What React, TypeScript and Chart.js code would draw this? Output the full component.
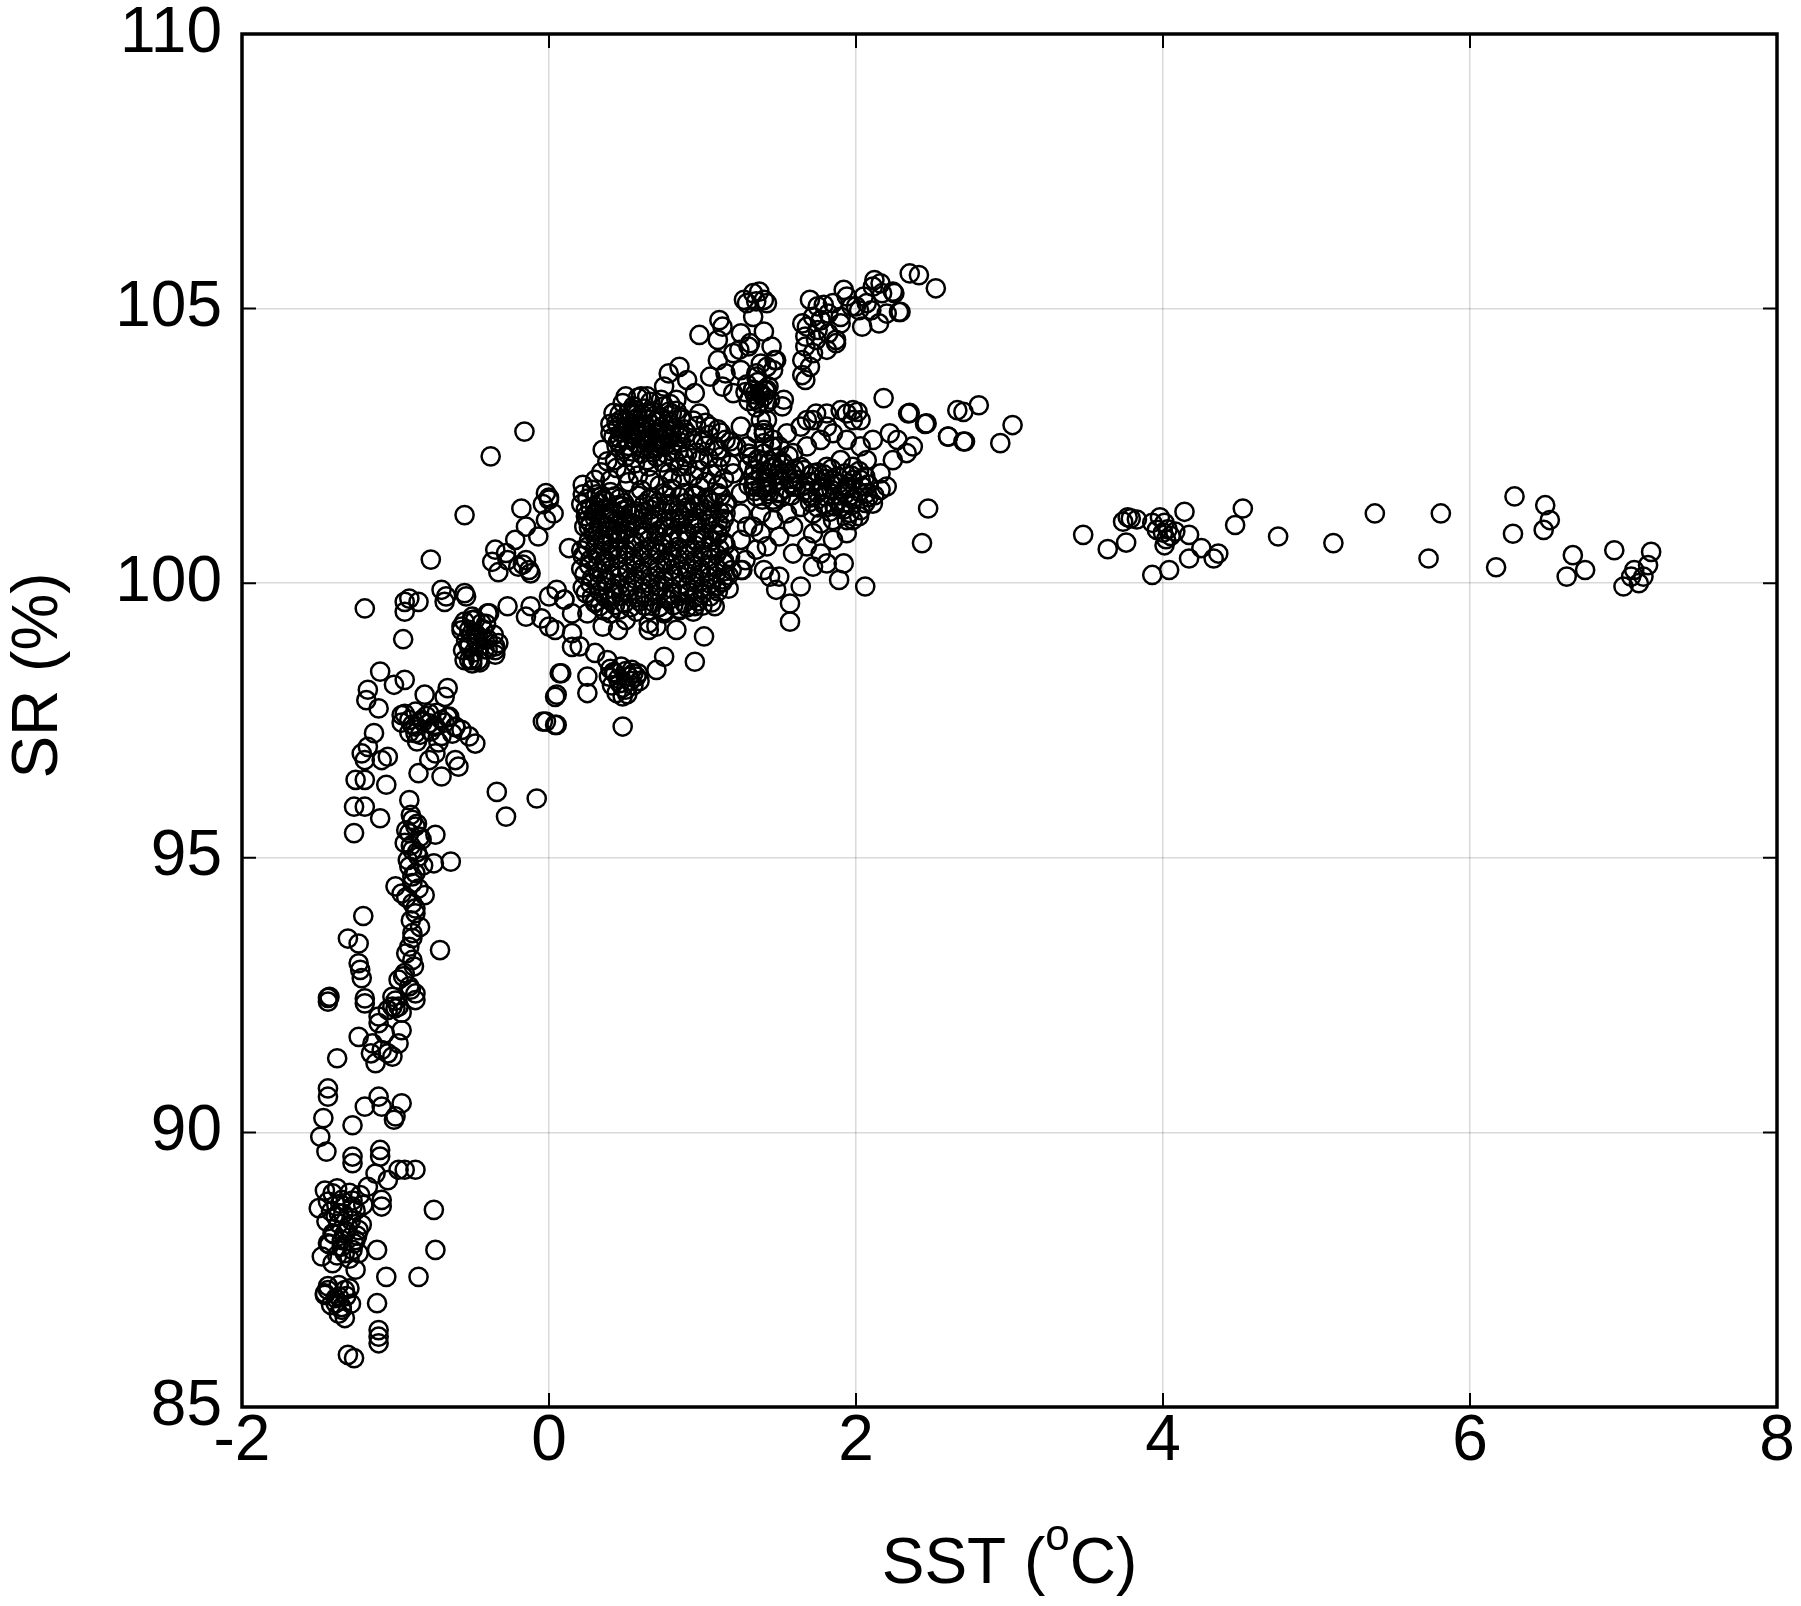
import React, { useEffect, useRef } from "react";
import { Chart, registerables } from "chart.js";

Chart.register(...registerables);

type Pt = [number, number];

const xTicks = [-2, 0, 2, 4, 6, 8];
const yTicks = [85, 90, 95, 100, 105, 110];
const xTitleMain = "SST (";
const xTitleSup = "o";
const xTitleEnd = "C)";
const yTitle = "SR (%)";

// SST (°C), SR (%) pairs, grouped by region
const coldTail: Pt[] = [
  [-1.44, 92.38], [-1.2, 92.35], [-1.02, 92.29], [-0.87, 92.41], [-1.11, 91.99], [-1.24, 91.74],
  [-0.96, 91.86], [-1.09, 91.5], [-1.13, 91.26], [-1.02, 91.38], [-1.15, 91.62], [-1.0, 92.26],
  [-1.07, 91.8], [-0.98, 91.62], [-1.05, 91.44], [-1.16, 91.44], [-1.38, 91.35], [-1.44, 90.8],
  [-1.44, 90.65], [-1.47, 90.26], [-1.49, 89.92], [-1.45, 89.65], [-1.28, 90.13], [-1.2, 90.47],
  [-1.11, 90.65], [-0.96, 90.53], [-1.0, 90.29], [-1.01, 90.23], [-1.09, 90.47], [-1.28, 89.56],
  [-1.28, 89.44], [-1.1, 89.68], [-1.1, 89.56], [-0.98, 89.32], [-0.94, 89.32], [-0.87, 89.32],
  [-1.13, 89.25], [-1.05, 89.13], [-1.18, 89.01], [-1.09, 88.77], [-1.09, 88.65], [-1.5, 88.62],
  [-1.41, 88.89], [-1.35, 88.77], [-1.28, 88.65], [-1.39, 88.47], [-1.31, 88.28], [-1.41, 88.16],
  [-1.24, 88.22], [-1.35, 88.04], [-1.28, 87.86], [-1.48, 87.74], [-1.41, 87.62], [-1.33, 87.8],
  [-1.24, 87.8], [-1.37, 88.53], [-1.33, 88.16], [-1.44, 87.98], [-1.26, 88.04], [-1.12, 87.86],
  [-0.75, 88.59], [-0.74, 87.86], [-1.26, 87.5], [-1.06, 87.37], [-0.85, 87.37], [-1.44, 87.13],
  [-1.37, 87.01], [-1.33, 87.13], [-1.39, 86.89], [-1.35, 86.77], [-1.33, 86.62], [-1.46, 87.07],
  [-1.12, 86.89], [-1.11, 86.4], [-1.11, 86.28], [-1.11, 86.16], [-1.31, 85.95], [-1.27, 85.89],
  [-1.46, 88.94], [-1.38, 88.98], [-1.3, 88.9], [-1.23, 88.86], [-1.44, 88.74], [-1.36, 88.7],
  [-1.28, 88.76], [-1.21, 88.68], [-1.42, 88.56], [-1.34, 88.52], [-1.26, 88.58], [-1.45, 88.38],
  [-1.37, 88.34], [-1.29, 88.4], [-1.22, 88.32], [-1.4, 88.14], [-1.32, 88.2], [-1.25, 88.12],
  [-1.43, 87.96], [-1.35, 87.92], [-1.27, 87.98], [-1.38, 87.76], [-1.3, 87.7], [-1.44, 87.2],
  [-1.37, 87.22], [-1.3, 87.16], [-1.46, 87.04], [-1.39, 86.98], [-1.32, 87.02], [-1.42, 86.86],
  [-1.35, 86.82], [-1.29, 86.88], [-1.37, 86.7],
];

const coldArm: Pt[] = [
  [-1.2, 99.54], [-0.94, 99.48], [-0.94, 99.66], [-0.85, 99.66], [-0.68, 99.66], [-0.95, 98.98],
  [-0.5, 99.39], [-0.48, 99.09], [-0.52, 98.84], [-0.46, 98.6], [-0.35, 98.78], [-0.44, 99.27],
  [-0.39, 99.45], [-0.5, 98.54], [-0.42, 98.97], [-0.33, 98.91], [-0.46, 99.03], [-0.52, 99.15],
  [-1.1, 98.39], [-1.18, 98.06], [-0.94, 98.24], [-1.01, 98.15], [-1.19, 97.87], [-1.11, 97.72],
  [-0.96, 97.6], [-0.87, 97.39], [-0.78, 97.45], [-0.7, 97.51], [-0.61, 97.39], [-0.52, 97.21],
  [-0.48, 97.08], [-0.91, 97.51], [-0.83, 97.51], [-0.74, 97.39], [-0.65, 97.57], [-0.57, 97.33],
  [-0.78, 97.63], [-0.87, 97.27], [-0.81, 97.97], [-0.66, 98.09], [-0.68, 97.93], [-1.14, 97.27],
  [-1.22, 96.9], [-1.2, 96.78], [-1.26, 96.42], [-1.2, 96.42], [-1.09, 96.78], [-1.05, 96.84],
  [-1.18, 97.02], [-1.06, 96.33], [-0.85, 96.54], [-0.7, 96.48], [-0.78, 96.78], [-0.61, 96.78],
  [-0.59, 96.66], [-0.74, 96.9], [-1.27, 95.93], [-1.2, 95.93], [-1.1, 95.72], [-1.27, 95.45],
  [-0.91, 96.05], [-0.89, 95.69], [-0.91, 95.45], [-0.87, 95.57], [-0.74, 95.42], [-0.89, 95.14],
  [-0.85, 95.02], [-0.75, 94.9], [-0.64, 94.93], [-0.91, 94.84], [-0.87, 94.72], [-1.0, 94.48],
  [-0.89, 94.54], [-0.81, 94.32], [-0.89, 94.17], [-0.87, 93.99], [-0.94, 95.27], [-0.83, 95.33],
  [-0.96, 94.35], [-1.21, 93.94], [-1.31, 93.53], [-1.24, 93.44], [-1.24, 93.08], [-1.23, 92.96],
  [-1.22, 92.81], [-0.71, 93.32], [-0.89, 93.63], [-0.91, 93.38], [-0.89, 93.14], [-0.94, 92.9],
  [-0.98, 92.78], [-0.91, 92.66], [-0.87, 92.53], [-1.02, 92.47], [-0.98, 92.29], [-1.05, 92.23],
  [-1.11, 92.11], [-1.43, 92.47], [-1.44, 92.45], [-1.2, 92.44],
  [-0.94, 97.62], [-0.87, 97.66], [-0.8, 97.58], [-0.73, 97.64], [-0.66, 97.56], [-0.96, 97.46],
  [-0.89, 97.42], [-0.82, 97.48], [-0.75, 97.4], [-0.68, 97.46], [-0.61, 97.38], [-0.91, 97.28],
  [-0.84, 97.24], [-0.77, 97.3], [-0.7, 97.22], [-0.63, 97.26], [-0.86, 97.12], [-0.72, 97.1],
  [-0.9, 95.78], [-0.86, 95.62], [-0.93, 95.5], [-0.84, 95.38], [-0.9, 95.22], [-0.86, 95.1],
  [-0.92, 94.96], [-0.82, 94.86], [-0.89, 94.66], [-0.85, 94.44], [-0.93, 94.28], [-0.87, 94.08],
  [-0.9, 93.86], [-0.84, 93.74], [-0.89, 93.54], [-0.93, 93.26], [-0.88, 93.02], [-0.95, 92.84],
  [-0.9, 92.6], [-1.0, 92.4], [-0.96, 92.18],
  [-0.55, 99.3], [-0.48, 99.34], [-0.41, 99.26], [-0.57, 99.14], [-0.5, 99.1], [-0.43, 99.16],
  [-0.36, 99.06], [-0.54, 98.96], [-0.47, 98.92], [-0.4, 98.98], [-0.56, 98.78], [-0.49, 98.74],
  [-0.42, 98.8], [-0.35, 98.7], [-0.52, 98.6], [-0.45, 98.56],
];

const transition: Pt[] = [
  [-0.15, 99.39], [-0.05, 99.36], [0.04, 99.15], [0.15, 98.84], [0.07, 98.36], [0.04, 97.93],
  [-0.04, 97.48], [0.04, 97.42], [-0.34, 96.2], [-0.08, 96.08], [-0.28, 95.75],
  [-0.16, 102.76], [-0.38, 102.31], [-0.55, 101.24], [-0.18, 101.36], [-0.02, 101.64], [0.0, 101.52],
  [0.03, 101.27], [-0.02, 101.15], [-0.15, 101.03], [-0.22, 100.79], [-0.07, 100.85], [-0.35, 100.61],
  [-0.27, 100.42], [-0.15, 100.42], [-0.12, 100.18], [-0.2, 100.3], [-0.12, 99.58], [-0.27, 99.58],
  [-0.4, 99.45], [-0.5, 99.33], [-0.55, 99.82], [-0.57, 99.21], [-0.52, 98.91], [-0.55, 98.6],
  [-0.4, 98.79], [-0.47, 98.97], [-0.35, 98.85], [-0.5, 98.6], [0.0, 99.76], [0.15, 99.45],
  [0.0, 99.21], [0.05, 99.88], [0.1, 99.7], [0.08, 98.36], [0.05, 97.97], [-0.02, 97.48],
  [0.05, 97.42], [0.25, 98.3], [0.25, 98.0], [0.2, 98.85], [0.3, 98.73], [0.38, 98.6],
  [0.15, 99.09], [0.48, 97.39], [-0.91, 99.72], [-0.77, 100.43], [-0.7, 99.88], [-0.67, 99.76],
  [-0.54, 99.76], [-0.37, 100.39], [-0.28, 100.55], [-0.17, 100.34], [-0.13, 100.24], [-0.33, 100.2],
  [0.0, 101.56], [-0.04, 101.44],
];

const core: Pt[] = [
  [0.6, 103.4], [0.6, 102.85], [0.55, 103.16], [0.7, 102.97], [0.65, 102.61], [0.53, 102.73],
  [0.7, 102.49], [0.5, 102.97], [0.45, 102.85], [0.4, 102.73], [0.35, 102.43], [0.43, 102.24],
  [0.5, 102.0], [0.65, 102.12], [0.75, 102.49], [0.9, 102.73], [1.05, 102.85], [1.15, 102.61],
  [1.2, 102.49], [1.08, 102.49], [0.98, 102.24], [0.85, 102.12], [1.1, 102.12], [1.2, 102.0],
  [1.25, 101.64], [1.1, 101.64], [0.98, 101.76], [0.8, 101.88], [0.9, 102.36], [0.85, 102.73],
  [1.0, 102.61], [0.22, 101.79], [0.3, 101.4], [0.4, 101.27], [0.53, 101.03], [0.35, 101.52],
  [0.48, 101.4], [0.25, 101.15], [0.35, 100.79], [0.4, 100.61], [0.13, 100.64], [0.23, 101.03],
  [0.45, 100.91], [0.55, 101.27], [0.65, 101.52], [0.75, 101.64], [0.85, 101.27], [0.95, 101.4],
  [1.05, 101.15], [1.15, 101.27], [0.75, 101.03], [0.9, 100.91], [1.0, 100.79], [1.1, 100.91],
  [0.3, 99.64], [0.4, 99.45], [0.5, 99.33], [0.65, 99.27], [0.75, 99.45], [0.85, 99.51],
  [0.95, 99.58], [1.08, 99.58], [0.1, 99.7], [0.25, 99.45], [0.35, 99.21], [0.45, 99.15],
  [0.65, 99.15], [0.7, 99.21], [0.83, 99.15], [0.75, 98.66], [0.7, 98.42], [1.01, 99.03],
  [0.95, 98.57], [1.25, 100.24],
  [0.48, 103.28], [0.55, 103.22], [0.62, 103.18], [0.69, 103.05], [0.46, 103.08], [0.52, 103.12],
  [0.58, 103.02], [0.64, 102.98], [0.71, 102.94], [0.44, 102.92], [0.5, 102.96], [0.56, 102.86],
  [0.61, 102.82], [0.67, 102.88], [0.74, 102.78], [0.47, 102.74], [0.53, 102.78], [0.59, 102.68],
  [0.66, 102.7], [0.72, 102.62], [0.45, 102.58], [0.51, 102.62], [0.57, 102.54], [0.63, 102.5],
  [0.69, 102.46], [0.76, 102.52], [0.54, 102.4], [0.6, 102.36], [0.49, 102.44],
  [0.42, 103.1], [0.4, 102.9], [0.42, 102.66], [0.78, 102.96], [0.8, 102.7], [0.75, 103.22],
  [0.66, 103.3], [0.58, 103.38], [0.5, 103.4], [0.44, 102.5], [0.5, 102.3], [0.68, 102.58],
  [0.62, 102.62], [0.56, 102.98], [0.63, 102.84], [0.68, 103.12], [0.52, 102.86],
  [0.79, 103.26], [0.83, 103.14], [0.86, 102.98], [0.82, 102.82], [0.85, 102.66], [0.81, 102.52],
  [0.84, 102.4], [0.77, 102.34], [0.73, 103.34], [0.64, 103.4], [0.47, 102.98], [0.54, 103.06],
  [0.61, 103.06], [0.73, 103.02], [0.49, 102.8], [0.58, 102.76], [0.7, 102.74], [0.77, 102.66],
  [0.46, 102.64], [0.55, 102.64], [0.64, 102.58], [0.73, 102.52], [0.52, 102.5], [0.6, 102.46],
  [0.68, 102.38],
  [0.22, 101.62], [0.28, 101.7], [0.34, 101.58], [0.4, 101.66], [0.46, 101.54], [0.21, 101.44],
  [0.27, 101.38], [0.33, 101.46], [0.39, 101.34], [0.45, 101.42], [0.51, 101.36], [0.24, 101.22],
  [0.3, 101.18], [0.36, 101.26], [0.42, 101.14], [0.48, 101.22], [0.54, 101.1], [0.26, 101.02],
  [0.32, 100.96], [0.38, 101.04], [0.44, 100.94], [0.5, 100.98],
  [0.25, 101.54], [0.31, 101.62], [0.37, 101.5], [0.43, 101.58], [0.49, 101.46], [0.24, 101.34],
  [0.3, 101.28], [0.36, 101.36], [0.42, 101.3], [0.48, 101.32], [0.53, 101.24], [0.27, 101.1],
  [0.33, 101.08], [0.39, 101.16], [0.45, 101.06], [0.51, 101.12], [0.29, 100.94], [0.41, 100.96],
  [0.47, 100.9],
  [0.58, 101.59], [0.67, 101.56], [0.76, 101.6], [0.85, 101.57], [0.94, 101.6], [1.03, 101.56],
  [1.12, 101.59], [0.62, 101.44], [0.71, 101.47], [0.8, 101.43], [0.89, 101.46], [0.98, 101.44],
  [1.07, 101.47], [1.15, 101.43], [0.57, 101.31], [0.66, 101.34], [0.75, 101.3], [0.84, 101.33],
  [0.93, 101.31], [1.02, 101.34], [1.11, 101.3], [0.61, 101.18], [0.7, 101.21], [0.79, 101.17],
  [0.88, 101.2], [0.97, 101.18], [1.06, 101.21], [1.14, 101.17], [0.58, 101.05], [0.67, 101.08],
  [0.76, 101.04], [0.85, 101.07], [0.94, 101.05], [1.03, 101.08], [1.12, 101.04], [0.62, 100.93],
  [0.71, 100.95], [0.8, 100.91], [0.89, 100.94], [0.98, 100.92], [1.07, 100.95],
  [0.78, 103.12], [0.86, 103.02], [0.94, 102.96], [1.02, 102.92], [1.1, 102.8], [0.8, 102.88],
  [0.88, 102.8], [0.96, 102.86], [1.04, 102.7], [1.12, 102.74], [1.18, 102.58], [0.78, 102.62],
  [0.86, 102.56], [0.94, 102.6], [1.02, 102.5], [1.1, 102.42], [0.8, 102.4], [0.88, 102.3],
  [0.96, 102.38], [1.04, 102.28], [1.12, 102.3], [1.18, 102.16], [0.74, 102.2], [0.82, 102.24],
  [0.9, 102.14], [0.98, 102.06], [1.06, 101.98], [1.14, 101.9], [0.78, 102.0], [0.86, 101.92],
  [0.94, 101.96], [1.02, 101.84], [1.1, 101.78], [0.72, 101.78], [0.8, 101.72], [0.88, 101.64],
  [0.96, 101.6], [1.04, 101.52], [1.16, 101.46], [0.7, 101.4], [0.78, 101.44], [0.9, 101.38],
  [1.0, 101.3], [1.1, 101.1], [0.62, 101.3], [0.68, 101.14], [0.82, 101.16], [0.94, 101.1],
  [0.6, 101.7], [0.58, 101.96], [0.66, 101.88], [0.7, 102.3], [0.64, 102.24], [0.56, 102.18],
  [0.44, 102.1], [0.38, 102.22], [0.34, 102.02], [0.4, 101.88], [0.52, 101.84], [0.3, 101.88],
  [0.3, 100.86], [0.41, 100.83], [0.5, 100.88], [0.61, 100.84], [0.7, 100.87], [0.79, 100.82],
  [0.9, 100.86], [1.01, 100.83], [1.1, 100.88],
  [0.25, 100.66], [0.35, 100.7], [0.45, 100.65], [0.55, 100.69], [0.66, 100.67], [0.75, 100.71],
  [0.84, 100.66], [0.95, 100.69], [1.05, 100.65], [1.15, 100.7],
  [0.22, 100.5], [0.31, 100.53], [0.4, 100.48], [0.5, 100.52], [0.6, 100.5], [0.71, 100.54],
  [0.8, 100.49], [0.89, 100.52], [1.0, 100.5], [1.09, 100.53], [1.18, 100.48],
  [0.26, 100.33], [0.36, 100.36], [0.45, 100.31], [0.56, 100.35], [0.65, 100.33], [0.76, 100.37],
  [0.85, 100.32], [0.94, 100.35], [1.04, 100.33], [1.14, 100.36],
  [0.23, 100.16], [0.32, 100.19], [0.41, 100.14], [0.51, 100.18], [0.61, 100.16], [0.7, 100.2],
  [0.81, 100.15], [0.9, 100.18], [0.99, 100.16], [1.09, 100.19], [1.17, 100.14],
  [0.27, 99.99], [0.37, 100.02], [0.46, 99.97], [0.55, 100.01], [0.66, 99.99], [0.75, 100.03],
  [0.86, 99.98], [0.95, 100.01], [1.05, 99.99], [1.13, 100.02],
  [0.24, 99.82], [0.33, 99.85], [0.43, 99.8], [0.52, 99.84], [0.62, 99.82], [0.71, 99.86],
  [0.8, 99.81], [0.91, 99.84], [1.0, 99.82], [1.1, 99.85],
  [0.3, 99.66], [0.4, 99.68], [0.49, 99.63], [0.59, 99.67], [0.68, 99.65], [0.78, 99.69],
  [0.88, 99.64], [0.97, 99.67], [1.06, 99.65],
  [0.36, 99.5], [0.46, 99.52], [0.57, 99.48], [0.66, 99.51], [0.75, 99.49], [0.85, 99.53], [0.94, 99.48],
  [0.26, 100.77], [0.36, 100.75], [0.46, 100.79], [0.56, 100.76], [0.65, 100.78], [0.74, 100.75],
  [0.85, 100.79], [0.96, 100.76], [1.06, 100.78], [1.14, 100.75],
  [0.21, 100.6], [0.3, 100.62], [0.41, 100.58], [0.5, 100.61], [0.61, 100.59], [0.7, 100.62],
  [0.8, 100.58], [0.9, 100.61], [1.0, 100.59], [1.11, 100.62],
  [0.27, 100.43], [0.36, 100.41], [0.45, 100.45], [0.55, 100.42], [0.66, 100.44], [0.76, 100.41],
  [0.84, 100.45], [0.95, 100.42], [1.05, 100.44], [1.14, 100.41],
  [0.21, 100.26], [0.31, 100.28], [0.4, 100.24], [0.51, 100.27], [0.6, 100.25], [0.71, 100.28],
  [0.8, 100.24], [0.9, 100.27], [0.99, 100.25], [1.09, 100.28], [1.19, 100.24],
  [0.28, 100.09], [0.37, 100.07], [0.46, 100.11], [0.56, 100.08], [0.66, 100.1], [0.75, 100.07],
  [0.86, 100.11], [0.95, 100.08], [1.04, 100.1], [1.13, 100.07],
  [0.22, 99.92], [0.32, 99.94], [0.42, 99.9], [0.51, 99.93], [0.61, 99.91], [0.71, 99.94],
  [0.8, 99.9], [0.9, 99.93], [1.0, 99.91], [1.09, 99.94], [1.17, 99.9],
  [0.28, 99.75], [0.37, 99.73], [0.47, 99.77], [0.57, 99.74], [0.66, 99.76], [0.76, 99.73],
  [0.85, 99.77], [0.95, 99.74], [1.05, 99.76],
  [0.33, 99.58], [0.43, 99.6], [0.53, 99.56], [0.62, 99.59], [0.72, 99.57], [0.81, 99.6],
  [0.9, 99.56], [1.0, 99.59],
  [0.4, 98.44], [0.47, 98.48], [0.54, 98.42], [0.58, 98.36], [0.39, 98.3], [0.45, 98.26],
  [0.52, 98.3], [0.59, 98.22], [0.41, 98.14], [0.48, 98.1], [0.55, 98.14], [0.44, 98.0],
  [0.51, 97.98], [0.43, 98.36], [0.55, 98.36], [0.5, 98.06], [0.42, 98.38], [0.5, 98.4],
  [0.57, 98.3], [0.46, 98.18], [0.53, 98.22], [0.48, 97.94],
];

const upperBranch: Pt[] = [
  [2.35, 105.64], [2.41, 105.61], [2.52, 105.37], [2.12, 105.52], [2.11, 105.4], [2.17, 105.28],
  [2.25, 105.28], [1.92, 105.34], [2.05, 105.22], [2.02, 104.97], [2.1, 104.97], [2.2, 104.91],
  [2.28, 104.94], [2.04, 104.67], [2.15, 104.73], [1.7, 105.16], [1.75, 105.04], [1.85, 105.1],
  [1.82, 104.91], [1.72, 104.85], [1.65, 104.73], [1.9, 104.73], [1.67, 104.49], [1.75, 104.61],
  [1.82, 104.55], [1.87, 104.43], [1.67, 104.31], [1.72, 104.19], [1.65, 104.06], [1.7, 103.94],
  [1.65, 103.79], [1.67, 103.7], [1.77, 104.79], [1.97, 105.04], [2.16, 105.46], [2.24, 105.31],
  [2.29, 104.94], [2.0, 105.04], [2.07, 105.1], [1.9, 104.85], [1.94, 105.22], [1.79, 105.07],
  [1.81, 104.25], [1.74, 104.43], [1.87, 104.37], [1.77, 104.79], [1.68, 104.67],
  [1.33, 105.28], [1.37, 105.31], [1.35, 105.13], [1.29, 105.1], [1.4, 105.16], [1.33, 104.85],
  [1.27, 105.16], [1.42, 105.1], [1.13, 104.67], [0.98, 104.52], [1.1, 104.43], [1.25, 104.55],
  [1.4, 104.58], [1.3, 104.31], [1.2, 104.19], [1.45, 104.31], [1.47, 104.06], [1.1, 104.06],
  [1.15, 103.82], [1.05, 103.76], [1.25, 103.88], [1.35, 103.82], [1.42, 103.94], [1.13, 103.58],
  [1.2, 103.46], [1.37, 103.46], [1.35, 103.34], [1.42, 103.28], [1.33, 103.52], [1.4, 103.4],
  [1.52, 103.22], [1.42, 102.97], [1.4, 102.73], [0.85, 103.94], [0.78, 103.82], [0.75, 103.58],
  [0.9, 103.7], [0.95, 103.46], [0.83, 103.34], [0.98, 103.09], [0.8, 103.09], [1.11, 104.79],
  [1.31, 104.37], [1.24, 104.25], [1.48, 104.06], [1.38, 104.0], [1.46, 103.88], [1.35, 103.76],
  [1.29, 103.62], [1.36, 103.66], [1.43, 103.58], [1.28, 103.48], [1.34, 103.44], [1.41, 103.5],
  [1.3, 103.32], [1.37, 103.28], [1.44, 103.34], [1.35, 103.2],
  [1.25, 102.85], [1.35, 102.73], [1.45, 102.49], [1.3, 102.36], [1.25, 101.27], [1.33, 101.03],
  [1.25, 100.79], [1.35, 100.61], [1.28, 100.42],
];

const warmBranch: Pt[] = [
  [2.18, 103.37], [2.34, 103.09], [2.46, 102.91], [2.6, 102.67], [2.7, 102.58], [2.66, 103.15],
  [2.7, 103.12], [2.8, 103.24], [2.94, 102.55], [3.02, 102.88], [2.47, 101.36], [2.43, 100.73],
  [2.06, 99.94], [1.89, 100.06], [1.92, 100.36], [1.57, 99.3], [1.57, 99.63], [1.64, 99.94],
  [1.48, 99.88], [1.44, 100.12], [1.4, 100.24], [1.26, 100.24], [1.5, 100.12], [1.72, 100.3],
  [1.81, 100.36], [1.77, 100.54], [1.68, 100.67], [1.59, 100.54], [1.42, 100.67], [1.5, 100.85],
  [1.38, 100.91], [1.29, 101.03], [1.38, 101.27], [1.46, 101.15], [1.59, 101.03], [1.72, 100.91],
  [1.85, 100.79], [1.94, 100.91], [1.98, 101.15], [2.03, 101.33], [2.11, 101.45], [2.16, 101.7],
  [2.2, 101.76], [2.16, 102.0], [2.24, 102.24], [2.33, 102.37], [2.37, 102.49], [2.27, 102.61],
  [2.22, 102.73], [2.11, 102.61], [2.03, 102.97], [1.98, 103.15], [1.94, 103.09], [1.81, 103.09],
  [1.72, 102.97], [1.64, 102.85], [1.55, 102.73], [1.46, 102.61], [1.4, 102.79], [1.4, 102.55],
  [1.5, 102.49], [1.59, 102.37], [1.68, 102.49], [1.77, 102.61], [1.85, 102.73], [1.94, 102.61],
  [2.03, 102.49], [2.07, 102.24], [1.98, 102.12], [1.9, 102.24], [1.81, 102.12], [1.72, 102.0],
  [1.64, 102.12], [1.55, 102.0], [1.46, 102.12], [1.38, 102.0], [1.33, 101.76], [1.42, 101.76],
  [1.5, 101.64], [1.59, 101.76], [1.68, 101.64], [1.77, 101.76], [1.85, 101.88], [1.94, 101.76],
  [2.03, 101.88], [2.07, 101.64], [1.98, 101.52], [1.9, 101.39], [1.81, 101.39], [1.72, 101.27],
  [1.64, 101.39], [1.55, 101.27], [1.46, 101.52], [1.77, 101.09], [1.85, 101.15], [1.94, 101.15],
  [1.29, 102.49], [1.22, 102.49], [1.38, 102.97], [1.4, 102.73], [1.53, 103.34], [1.38, 103.46],
  [1.33, 103.52], [1.42, 103.52], [1.35, 103.34], [1.68, 102.97], [1.81, 102.85], [1.9, 103.15],
  [1.98, 102.97], [1.74, 103.09], [2.01, 103.12], [2.35, 103.1], [2.45, 102.9], [2.6, 102.67],
  [2.71, 102.58],
  [1.32, 102.3], [1.4, 102.36], [1.48, 102.28], [1.56, 102.32], [1.3, 102.14], [1.37, 102.18],
  [1.45, 102.1], [1.53, 102.16], [1.6, 102.08], [1.33, 101.96], [1.41, 101.92], [1.49, 101.98],
  [1.57, 101.9], [1.3, 101.78], [1.38, 101.74], [1.46, 101.8], [1.54, 101.72], [1.61, 101.76],
  [1.35, 101.58], [1.43, 101.62], [1.51, 101.56], [1.58, 101.6],
  [1.36, 102.26], [1.44, 102.22], [1.52, 102.2], [1.34, 102.06], [1.42, 102.02], [1.5, 102.06],
  [1.58, 102.0], [1.34, 101.86], [1.42, 101.84], [1.5, 101.88], [1.58, 101.82], [1.34, 101.68],
  [1.42, 101.68], [1.5, 101.66], [1.39, 101.52], [1.47, 101.48],
  [1.66, 102.06], [1.75, 102.02], [1.84, 102.08], [1.93, 102.0], [2.02, 102.04], [1.62, 101.88],
  [1.71, 101.84], [1.8, 101.9], [1.89, 101.82], [1.98, 101.88], [2.08, 101.8], [1.66, 101.68],
  [1.75, 101.64], [1.84, 101.7], [1.93, 101.62], [2.02, 101.66], [2.12, 101.6], [1.7, 101.48],
  [1.79, 101.44], [1.88, 101.5], [1.97, 101.42], [2.06, 101.46], [1.83, 101.3], [1.92, 101.34],
  [1.7, 101.96], [1.79, 101.98], [1.88, 101.94], [1.97, 101.96], [2.06, 101.94], [1.67, 101.78],
  [1.76, 101.74], [1.85, 101.78], [1.94, 101.72], [2.04, 101.76], [1.71, 101.56], [1.8, 101.58],
  [1.89, 101.6], [1.98, 101.54], [2.08, 101.56], [1.75, 101.38], [1.86, 101.4], [1.96, 101.28],
  [2.02, 101.22],
];

const warmTail: Pt[] = [
  [3.48, 100.88], [3.64, 100.62], [3.76, 100.74], [3.74, 101.12], [3.79, 101.18], [3.83, 101.16],
  [3.77, 101.2], [3.93, 101.1], [3.98, 101.2], [4.01, 101.1], [4.0, 100.92], [4.02, 100.8],
  [4.01, 100.69], [4.05, 100.86], [4.08, 100.94], [3.96, 100.97], [4.03, 100.98], [4.14, 101.3],
  [4.17, 100.88], [4.25, 100.64], [4.36, 100.54], [4.33, 100.45], [4.17, 100.45], [3.93, 100.15],
  [4.04, 100.24], [4.52, 101.36], [4.47, 101.06], [4.75, 100.85], [5.11, 100.73], [5.38, 101.27],
  [5.81, 101.27], [5.73, 100.45], [6.17, 100.29], [6.29, 101.58], [6.28, 100.9], [6.49, 101.42],
  [6.52, 101.15], [6.48, 100.97], [6.67, 100.51], [6.75, 100.24], [6.63, 100.12], [6.94, 100.6],
  [7.18, 100.57], [7.16, 100.33], [7.07, 100.24], [7.13, 100.12], [7.0, 99.94], [7.1, 100.0],
  [7.05, 100.12],
];

const allPoints: Pt[] = [
  ...coldTail,
  ...coldArm,
  ...transition,
  ...core,
  ...upperBranch,
  ...warmBranch,
  ...warmTail,
];

const FONT = "'Liberation Sans', Arial, Helvetica, 'DejaVu Sans', sans-serif";

const framePlugin = {
  id: "matlabFrame",
  afterDraw(chart: any) {
    const { ctx, chartArea: a, scales } = chart;
    const tl = 14;
    ctx.save();
    ctx.strokeStyle = "#000";
    ctx.lineWidth = 2;
    ctx.beginPath();
    xTicks.forEach((v) => {
      const px = scales.x.getPixelForValue(v);
      ctx.moveTo(px, a.bottom);
      ctx.lineTo(px, a.bottom - tl);
      ctx.moveTo(px, a.top);
      ctx.lineTo(px, a.top + tl);
    });
    yTicks.forEach((v) => {
      const py = scales.y.getPixelForValue(v);
      ctx.moveTo(a.left, py);
      ctx.lineTo(a.left + tl, py);
      ctx.moveTo(a.right, py);
      ctx.lineTo(a.right - tl, py);
    });
    ctx.stroke();
    ctx.lineWidth = 3.5;
    ctx.strokeRect(a.left, a.top, a.right - a.left, a.bottom - a.top);

    // axis titles (x title carries a superscript "o")
    ctx.fillStyle = "#000";
    ctx.textBaseline = "alphabetic";
    ctx.textAlign = "left";
    const big = `64px ${FONT}`;
    const small = `44px ${FONT}`;
    ctx.font = big;
    const w1 = ctx.measureText(xTitleMain).width;
    const w3 = ctx.measureText(xTitleEnd).width;
    ctx.font = small;
    const w2 = ctx.measureText(xTitleSup).width;
    const total = w1 + w2 + w3;
    const cx = (a.left + a.right) / 2;
    const base = a.bottom + 176;
    let x0 = cx - total / 2;
    ctx.font = big;
    ctx.fillText(xTitleMain, x0, base);
    x0 += w1;
    ctx.font = small;
    ctx.fillText(xTitleSup, x0, base - 33);
    x0 += w2;
    ctx.font = big;
    ctx.fillText(xTitleEnd, x0, base);

    ctx.translate(a.left - 185, (a.top + a.bottom) / 2 - 45);
    ctx.rotate(-Math.PI / 2);
    ctx.textAlign = "center";
    ctx.font = big;
    ctx.fillText(yTitle, 0, 0);
    ctx.restore();
  },
};

export default function App() {
  const canvasRef = useRef<HTMLCanvasElement | null>(null);

  useEffect(() => {
    if (!canvasRef.current) return;
    const chart = new Chart(canvasRef.current, {
      type: "scatter",
      data: {
        datasets: [
          {
            label: "SR vs SST",
            data: allPoints.map(([x, y]) => ({ x, y })),
            pointStyle: "circle",
            pointRadius: 9.1,
            pointHoverRadius: 9.1,
            borderWidth: 2.5,
            borderColor: "#000",
            backgroundColor: "rgba(0,0,0,0)",
          },
        ],
      },
      options: {
        animation: false,
        responsive: true,
        maintainAspectRatio: false,
        devicePixelRatio: 1,
        events: [],
        layout: { padding: { top: 34, right: 24, left: 0, bottom: 0 } },
        plugins: {
          legend: { display: false },
          tooltip: { enabled: false },
        },
        scales: {
          x: {
            type: "linear",
            min: -2,
            max: 8,
            afterBuildTicks: (s: any) => {
              s.ticks = xTicks.map((v) => ({ value: v }));
            },
            afterFit: (s: any) => {
              s.height = 199;
              s.paddingLeft = 0;
              s.paddingRight = 0;
            },
            ticks: {
              color: "#000",
              padding: 3,
              font: { family: FONT, size: 64, lineHeight: 1 },
              maxRotation: 0,
            },
            grid: {
              color: "rgba(0,0,0,0.15)",
              lineWidth: 1.5,
              drawTicks: false,
            },
            border: { display: false },
            title: { display: false },
          },
          y: {
            type: "linear",
            min: 85,
            max: 110,
            afterBuildTicks: (s: any) => {
              s.ticks = yTicks.map((v) => ({ value: v }));
            },
            afterFit: (s: any) => {
              s.width = 242;
              s.paddingTop = 0;
              s.paddingBottom = 0;
            },
            ticks: {
              color: "#000",
              padding: 20,
              font: { family: FONT, size: 64, lineHeight: 1 },
            },
            grid: {
              color: "rgba(0,0,0,0.15)",
              lineWidth: 1.5,
              drawTicks: false,
            },
            border: { display: false },
            title: { display: false },
          },
        },
      },
      plugins: [framePlugin],
    });
    return () => chart.destroy();
  }, []);

  return (
    <div
      style={{
        position: "absolute",
        left: 0,
        top: 0,
        width: "1801px",
        height: "1606px",
        background: "#fff",
      }}
    >
      <canvas ref={canvasRef} />
    </div>
  );
}
